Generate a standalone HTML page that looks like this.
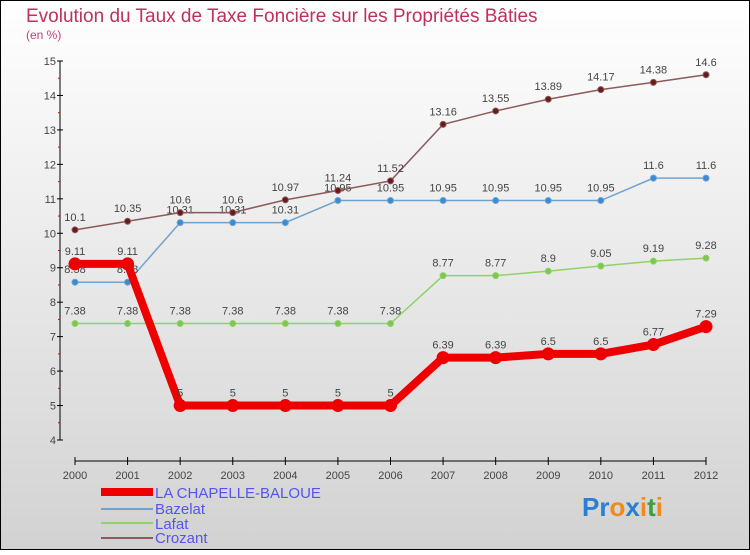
<!DOCTYPE html>
<html><head><meta charset="utf-8"><style>
body{margin:0}
#c{position:relative;width:750px;height:550px;font-family:"Liberation Sans",sans-serif}
</style></head><body>
<div id="c">
<svg id="s" width="750" height="550" xmlns="http://www.w3.org/2000/svg">
<defs><linearGradient id="bg" x1="0" y1="0" x2="0" y2="1"><stop offset="0" stop-color="#ffffff"/><stop offset="1" stop-color="#d2d2d2"/></linearGradient></defs>
<rect x="0.5" y="0.5" width="749" height="549" fill="url(#bg)" stroke="#000"/>
<text x="26" y="22" font-size="19" fill="#c0305a">Evolution du Taux de Taxe Foncière sur les Propriétés Bâties</text>
<text x="26" y="39" font-size="12" fill="#c0407a">(en %)</text>
<g id="axes"></g><g id="series"></g>
<g>
<rect x="101" y="488" width="52" height="8" fill="#e00"/>
<text x="155" y="498" font-size="15" fill="#5555ee">LA CHAPELLE-BALOUE</text>
<line x1="101" y1="509" x2="153" y2="509" stroke="#6fa3cf" stroke-width="2"/>
<text x="155" y="514" font-size="15" fill="#5555ee">Bazelat</text>
<line x1="101" y1="523" x2="153" y2="523" stroke="#8fd26a" stroke-width="2"/>
<text x="155" y="529" font-size="15" fill="#5555ee">Lafat</text>
<line x1="101" y1="538" x2="153" y2="538" stroke="#8b5a5a" stroke-width="2"/>
<text x="155" y="543" font-size="15" fill="#5555ee">Crozant</text>
</g>
<g font-size="26" font-weight="bold">
<text x="582" y="516"><tspan fill="#2a7fd4">Pr</tspan><tspan fill="#f08a1a">o</tspan><tspan fill="#2a7fd4">x</tspan><tspan fill="#f08a1a">i</tspan><tspan fill="#3aa040">t</tspan><tspan fill="#f08a1a">i</tspan></text>
</g>
</svg>
</div>
<script>
const years=["2000","2001","2002","2003","2004","2005","2006","2007","2008","2009","2010","2011","2012"];
const yTicks=[4,5,6,7,8,9,10,11,12,13,14,15];
const chapelle=[9.11,9.11,5,5,5,5,5,6.39,6.39,6.5,6.5,6.77,7.29];
const bazelat=[8.58,8.58,10.31,10.31,10.31,10.95,10.95,10.95,10.95,10.95,10.95,11.6,11.6];
const lafat=[7.38,7.38,7.38,7.38,7.38,7.38,7.38,8.77,8.77,8.9,9.05,9.19,9.28];
const crozant=[10.1,10.35,10.6,10.6,10.97,11.24,11.52,13.16,13.55,13.89,14.17,14.38,14.6];
const NS="http://www.w3.org/2000/svg";
const x=i=>75+i*(706-75)/(years.length-1);
const y=v=>440-(v-4)*(440-61)/11;
function mk(t,a,p){const e=document.createElementNS(NS,t);for(const k in a)e.setAttribute(k,a[k]);p.appendChild(e);return e;}
const ax=document.getElementById('axes');
let l=mk('line',{x1:60,y1:61,x2:60,y2:440,stroke:'#000'},ax);


l=mk('line',{x1:75,y1:461,x2:706,y2:461,stroke:'#000'},ax);


yTicks.forEach(v=>{
 mk('line',{x1:57,y1:y(v),x2:63,y2:y(v),stroke:'#000'},ax);
 if(v<15)mk('line',{x1:58,y1:y(v+0.5),x2:60,y2:y(v+0.5),stroke:'#e00'},ax);
 const t=mk('text',{x:56,y:y(v)+4,'font-size':11,fill:'#444','text-anchor':'end'},ax);t.textContent=v;
 
 
});
years.forEach((yr,i)=>{
 mk('line',{x1:x(i),y1:457,x2:x(i),y2:465,stroke:'#000'},ax);
 const t=mk('text',{x:x(i),y:479,'font-size':11,fill:'#444','text-anchor':'middle'},ax);t.textContent=yr;
 
 
});
const sg=document.getElementById('series');
function series(d,name,col,w,r,fill){
 const g=mk('g',{},sg);
 
 
 const p=mk('polyline',{points:d.map((v,i)=>x(i)+','+y(v)).join(' '),fill:'none',stroke:col,'stroke-width':w},g);
 
 
 d.forEach((v,i)=>{
  const c=mk('circle',{cx:x(i),cy:y(v),r:r,fill:fill,stroke:col,'stroke-width':1},g);
  
  
  const t=mk('text',{x:x(i),y:y(v)-9,'font-size':11,fill:'#444','text-anchor':'middle'},g);t.textContent=v;
  
  
 });
}
series(lafat,'lafat','#8fd26a',1.5,3,'#7cc84e');
series(bazelat,'bazelat','#6fa3cf',1.5,3,'#3a8ad6');
series(crozant,'crozant','#8b5a5a',1.5,3,'#6b1a1a');
series(chapelle,'la-chapelle-baloue','#e00',8,6,'#e00');
</script>
</body></html>
